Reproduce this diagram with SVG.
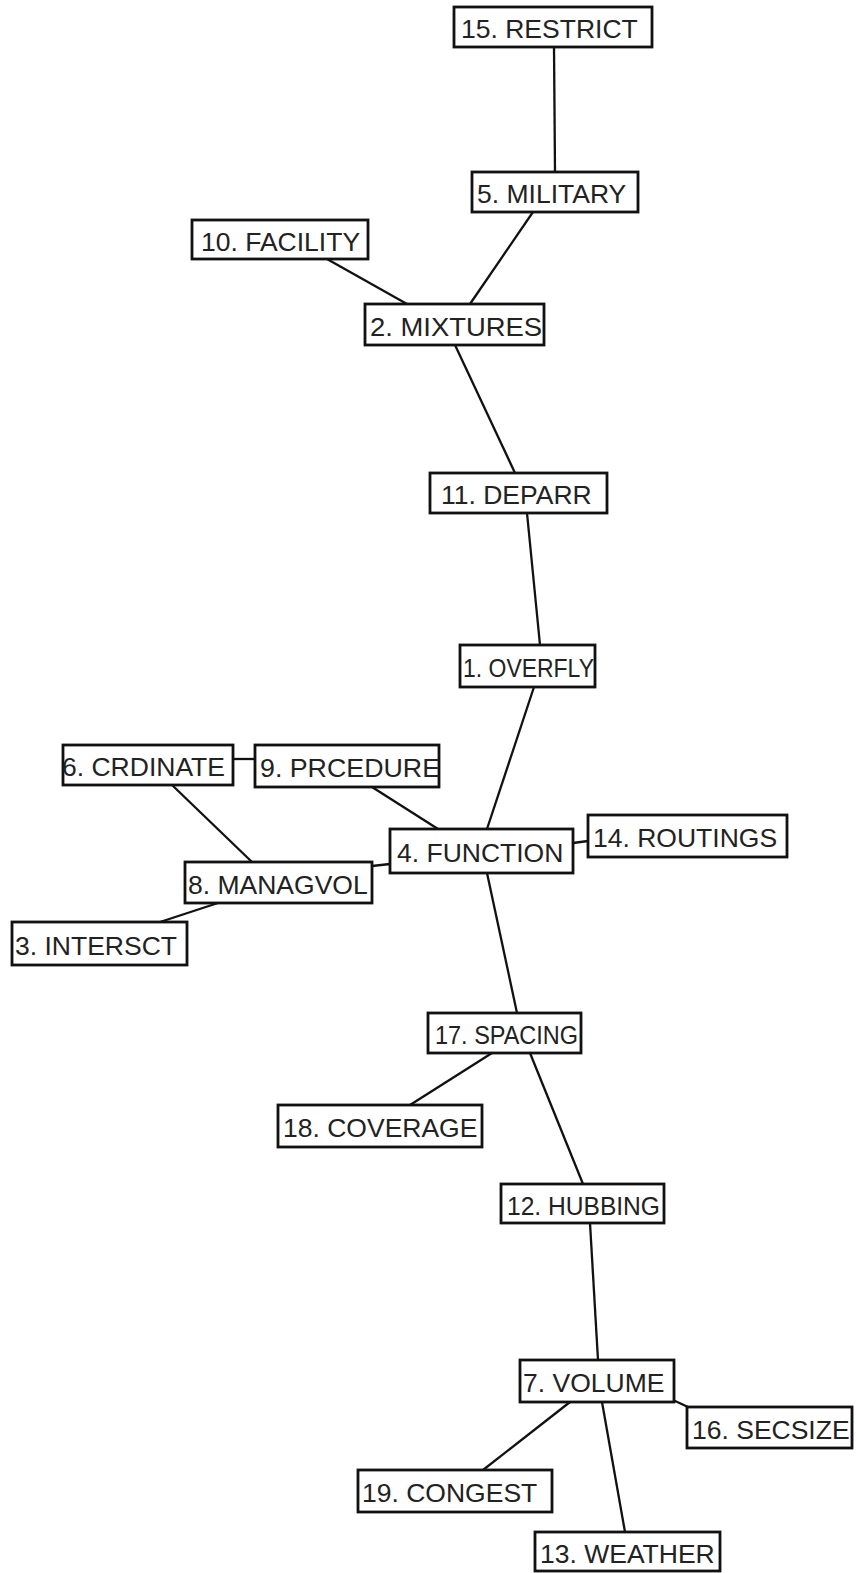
<svg xmlns="http://www.w3.org/2000/svg" width="857" height="1573" viewBox="0 0 857 1573">
<style>
rect{fill:#fff;stroke:#111;stroke-width:2.8}
text{font-family:"Liberation Sans",Arial,sans-serif;font-size:26.5px;fill:#222}
#edges line{stroke:#111;stroke-width:2.3}
</style>
<rect x="0" y="0" width="857" height="1573" style="fill:#fff;stroke:none"/>
<g id="edges">
<line x1="554" y1="47" x2="555" y2="172"/>
<line x1="533" y1="212" x2="470" y2="304"/>
<line x1="327" y1="259" x2="407" y2="304"/>
<line x1="455" y1="345" x2="515" y2="473"/>
<line x1="527" y1="513" x2="540" y2="645"/>
<line x1="534" y1="687" x2="487" y2="829"/>
<line x1="372" y1="787" x2="438" y2="829"/>
<line x1="233" y1="759" x2="255" y2="759"/>
<line x1="172" y1="785" x2="252" y2="862"/>
<line x1="372" y1="866" x2="390" y2="864"/>
<line x1="218" y1="903" x2="160" y2="922"/>
<line x1="573" y1="843" x2="588" y2="841"/>
<line x1="487" y1="873" x2="517" y2="1013"/>
<line x1="492" y1="1053" x2="410" y2="1105"/>
<line x1="530" y1="1053" x2="583" y2="1184"/>
<line x1="590" y1="1223" x2="598" y2="1360"/>
<line x1="673" y1="1400" x2="688" y2="1407"/>
<line x1="570" y1="1402" x2="483" y2="1470"/>
<line x1="602" y1="1402" x2="625" y2="1532"/>
</g>
<g id="n15"><rect x="454" y="7" width="198" height="40"/><text x="461" y="38">15. RESTRICT</text></g>
<g id="n5"><rect x="472" y="172" width="166" height="40"/><text x="477" y="203">5. MILITARY</text></g>
<g id="n10"><rect x="192" y="220" width="176" height="39"/><text x="201" y="251">10. FACILITY</text></g>
<g id="n2"><rect x="365" y="304" width="179" height="41"/><text x="370" y="336" textLength="172" lengthAdjust="spacingAndGlyphs">2. MIXTURES</text></g>
<g id="n11"><rect x="430" y="473" width="177" height="40"/><text x="441" y="504">11. DEPARR</text></g>
<g id="n1"><rect x="460" y="645" width="135" height="42"/><text x="463" y="677" textLength="131" lengthAdjust="spacingAndGlyphs">1. OVERFLY</text></g>
<g id="n6"><rect x="63" y="745" width="170" height="40"/><text x="62" y="776">6. CRDINATE</text></g>
<g id="n9"><rect x="255" y="745" width="184" height="42"/><text x="260" y="777" textLength="180" lengthAdjust="spacingAndGlyphs">9. PRCEDURE</text></g>
<g id="n4"><rect x="390" y="829" width="183" height="44"/><text x="397" y="862">4. FUNCTION</text></g>
<g id="n14"><rect x="588" y="815" width="199" height="42"/><text x="593" y="847">14. ROUTINGS</text></g>
<g id="n8"><rect x="185" y="862" width="187" height="41"/><text x="188" y="894">8. MANAGVOL</text></g>
<g id="n3"><rect x="12" y="922" width="175" height="43"/><text x="15" y="955">3. INTERSCT</text></g>
<g id="n17"><rect x="428" y="1013" width="153" height="40"/><text x="435" y="1044" textLength="143" lengthAdjust="spacingAndGlyphs">17. SPACING</text></g>
<g id="n18"><rect x="278" y="1105" width="204" height="42"/><text x="283" y="1137">18. COVERAGE</text></g>
<g id="n12"><rect x="501" y="1184" width="163" height="39"/><text x="507" y="1215" textLength="153" lengthAdjust="spacingAndGlyphs">12. HUBBING</text></g>
<g id="n7"><rect x="520" y="1360" width="154" height="42"/><text x="523" y="1392">7. VOLUME</text></g>
<g id="n16"><rect x="687" y="1407" width="165" height="41"/><text x="692" y="1439">16. SECSIZE</text></g>
<g id="n19"><rect x="358" y="1470" width="194" height="42"/><text x="362" y="1502">19. CONGEST</text></g>
<g id="n13"><rect x="535" y="1532" width="185" height="39"/><text x="540" y="1563">13. WEATHER</text></g>
</svg>
